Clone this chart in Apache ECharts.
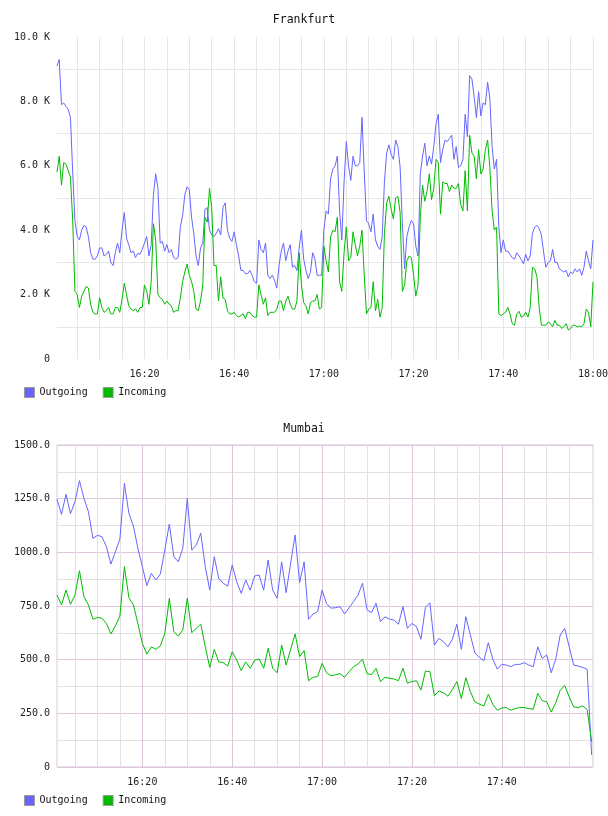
<!DOCTYPE html>
<html>
<head>
<meta charset="utf-8">
<script src="https://cdn.jsdelivr.net/npm/echarts@6/dist/echarts.min.js"></script>
<style>
  html, body { margin: 0; padding: 0; background: #fff; }
  #chart { width: 608px; height: 816px; }
</style>
</head>
<body>
<div id="chart"></div>
<script>
// Frankfurt: one sample every 30 s, 16:00:30 .. 18:00, values in K
const fraStart = 960.5 // minutes after midnight
const fraStep = 0.5
const fraOutgoing = [
  9.1, 9.3, 7.9, 7.95, 7.85, 7.75, 7.5, 5.8, 4.3, 3.8,
  3.7, 4.0, 4.15, 4.1, 3.8, 3.3, 3.1, 3.1, 3.2, 3.45,
  3.45, 3.2, 3.25, 3.35, 3.0, 2.9, 3.3, 3.6, 3.3, 4.0,
  4.55, 3.75, 3.55, 3.3, 3.35, 3.15, 3.28, 3.25, 3.4, 3.6,
  3.8, 3.2, 3.55, 5.1, 5.75, 5.3, 3.6, 3.65, 3.35, 3.55,
  3.3, 3.4, 3.15, 3.1, 3.15, 4.1, 4.45, 5.1, 5.35, 5.25,
  4.4, 3.9, 3.2, 2.9, 3.45, 3.6, 4.65, 4.7, 4.0, 3.85,
  3.8, 3.9, 4.05, 3.85, 4.7, 4.85, 4.0, 3.75, 3.65, 3.95,
  3.55, 3.2, 2.75, 2.75, 2.65, 2.65, 2.75, 2.6, 2.4, 2.35,
  3.7, 3.4, 3.3, 3.6, 2.6, 2.5, 2.6, 2.45, 2.2, 2.9,
  3.35, 3.6, 3.05, 3.35, 3.55, 2.85, 2.9, 2.75, 3.45, 4.0,
  3.1, 2.75, 2.5, 2.7, 3.3, 3.1, 2.6, 2.6, 2.6, 4.0,
  4.6, 4.5, 5.6, 5.9, 6.0, 6.3, 4.6, 3.7, 5.5, 6.75,
  6.0, 5.55, 6.3, 6.0, 6.0, 6.1, 7.5, 5.8, 4.3, 4.2,
  3.95, 4.5, 3.7, 3.5, 3.4, 3.8, 5.5, 6.4, 6.65, 6.35,
  6.2, 6.8, 6.6, 5.95, 4.2, 2.8, 3.8, 4.1, 4.3, 4.2,
  3.5, 3.2, 5.75, 6.3, 6.7, 6.0, 6.3, 6.05, 6.6, 7.3,
  7.6, 6.1, 6.5, 6.8, 6.75, 6.85, 6.95, 6.2, 6.6, 5.95,
  6.0, 6.2, 7.6, 6.9, 8.8, 8.7, 8.15, 7.5, 8.3, 7.55,
  7.95, 7.9, 8.6, 8.1, 6.6, 5.9, 6.2, 4.1, 3.3, 3.7,
  3.35, 3.35, 3.25, 3.15, 3.1, 3.3, 3.2, 3.1, 2.95, 3.25,
  3.05, 3.2, 3.9, 4.1, 4.15, 4.05, 3.85, 3.3, 2.85, 3.0,
  3.05, 3.4, 3.0, 3.0, 2.8, 2.75, 2.7, 2.75, 2.55, 2.7,
  2.65, 2.8, 2.7, 2.8, 2.6, 2.85, 3.35, 3.05, 2.8, 3.7
]
const fraIncoming = [
  5.8, 6.3, 5.4, 6.1, 6.05, 5.85, 5.65, 4.3, 2.1, 2.0,
  1.6, 1.95, 2.1, 2.25, 2.2, 1.7, 1.45, 1.4, 1.4, 1.9,
  1.6, 1.45, 1.5, 1.6, 1.4, 1.4, 1.6, 1.6, 1.45, 1.85,
  2.35, 2.0, 1.65, 1.55, 1.5, 1.55, 1.45, 1.6, 1.6, 2.3,
  2.1, 1.7, 2.4, 4.2, 3.7, 2.0, 1.9, 1.85, 1.7, 1.8,
  1.7, 1.65, 1.45, 1.5, 1.5, 1.9, 2.4, 2.7, 2.95, 2.6,
  2.4, 2.1, 1.55, 1.5, 1.8, 2.3, 4.4, 4.25, 5.3, 4.7,
  2.9, 2.9, 1.8, 2.55, 1.9, 1.85, 1.5, 1.4, 1.4, 1.45,
  1.35, 1.3, 1.35, 1.4, 1.25, 1.45, 1.45, 1.35, 1.3, 1.3,
  2.3, 2.0, 1.7, 1.9, 1.35, 1.45, 1.45, 1.45, 1.55, 1.8,
  1.8, 1.5, 1.8, 1.95, 1.7, 1.55, 1.55, 1.8, 3.3, 2.3,
  1.75, 1.65, 1.4, 1.75, 1.8, 1.8, 2.0, 1.55, 1.6, 3.5,
  3.05, 2.7, 3.8, 4.0, 3.95, 4.4, 2.4, 2.1, 3.3, 4.1,
  3.05, 3.15, 3.95, 3.55, 3.2, 3.5, 4.0, 2.6, 1.4, 1.55,
  1.6, 2.4, 1.5, 1.85, 1.3, 1.6, 3.9, 4.85, 5.05, 4.65,
  4.35, 5.0, 5.05, 4.55, 2.1, 2.3, 3.05, 3.2, 3.15, 2.6,
  1.95, 2.3, 4.4, 5.4, 4.9, 5.2, 5.75, 4.95, 5.3, 6.2,
  6.1, 4.5, 5.5, 5.45, 5.45, 5.2, 5.4, 5.3, 5.3, 5.45,
  4.8, 4.6, 5.85, 4.6, 6.95, 6.4, 6.3, 5.6, 6.5, 5.75,
  5.9, 6.5, 6.8, 5.95, 4.6, 4.0, 4.1, 1.4, 1.35, 1.4,
  1.45, 1.6, 1.4, 1.1, 1.05, 1.4, 1.48, 1.3, 1.33, 1.45,
  1.3, 1.6, 2.85, 2.8, 2.55, 1.6, 1.05, 1.05, 1.05, 1.15,
  1.1, 1.0, 1.2, 1.05, 1.05, 0.95, 1.0, 1.1, 0.9, 0.95,
  1.05, 1.05, 1.0, 1.02, 1.0, 1.1, 1.55, 1.45, 1.0, 2.4
]

// Mumbai: one sample per minute, 16:01 .. 18:00
const mumStart = 961
const mumStep = 1
const mumOutgoing = [
  1248, 1177, 1270, 1180, 1236, 1334, 1251, 1189, 1065, 1079,
  1073, 1026, 945, 1003, 1062, 1321, 1182, 1123, 1019, 933,
  845, 902, 871, 899, 1011, 1132, 980, 956, 1019, 1251,
  1011, 1034, 1089, 933, 824, 980, 879, 856, 843, 941,
  863, 809, 871, 824, 890, 894, 824, 964, 824, 786,
  956, 812, 949, 1081, 859, 956, 688, 713, 723, 824,
  760, 740, 742, 747, 713, 741, 770, 801, 856, 733,
  719, 763, 677, 700, 689, 685, 665, 747, 646, 669,
  654, 595, 744, 765, 568, 599, 584, 560, 595, 665,
  548, 700, 615, 532, 511, 495, 579, 502, 456, 478,
  475, 467, 478, 478, 486, 475, 467, 560, 506, 522,
  439, 502, 615, 646, 560, 475, 470, 464, 455, 56
]
const mumIncoming = [
  801, 755, 824, 758, 801, 914, 793, 755, 688, 697,
  693, 669, 620, 657, 703, 933, 789, 755, 669, 576,
  526, 560, 548, 564, 623, 786, 630, 610, 638, 786,
  626, 646, 666, 560, 464, 548, 490, 486, 470, 537,
  498, 449, 490, 460, 498, 503, 460, 553, 460, 439,
  568, 475, 548, 620, 514, 542, 402, 418, 421, 483,
  439, 425, 430, 435, 418, 444, 467, 480, 502, 435,
  430, 460, 398, 418, 413, 410, 402, 460, 390, 398,
  402, 358, 447, 444, 332, 354, 346, 330, 361, 398,
  319, 416, 351, 304, 293, 284, 339, 292, 264, 275,
  277, 264, 272, 277, 277, 272, 269, 343, 309, 304,
  256, 299, 357, 380, 327, 280, 277, 285, 267, 118
]

// axis ticks, in minutes after midnight
const fraGridTimes = [965, 970, 975, 980, 985, 990, 995, 1000, 1005, 1010, 1015, 1020,
  1025, 1030, 1035, 1040, 1045, 1050, 1055, 1060, 1065, 1070, 1075, 1080]
const fraTimeLabels = [980, 1000, 1020, 1040, 1060, 1080]
const mumGridTimes = [965, 970, 975, 980, 985, 990, 995, 1000, 1005, 1010, 1015, 1020,
  1025, 1030, 1035, 1040, 1045, 1050, 1055, 1060, 1065, 1070, 1075]
const mumTimeLabels = [980, 1000, 1020, 1040, 1060]

const FONT = 'DejaVu Sans Mono'
const OUT_COLOR = '#6666ff'
const IN_COLOR = '#00bb00'

const toPairs = (vals, start, step) => vals.map((v, i) => [start + i * step, v])
const hhmm = (m) => {
  const h = Math.floor(m / 60)
  const mm = Math.round(m - h * 60)
  return h + ':' + String(mm).padStart(2, '0')
}

const labelStyle = { fontFamily: FONT, fontSize: 10, color: '#222' }

function timeAxis(gridIndex, min, max, gridTimes, labels, lineColors) {
  return {
    type: 'value',
    gridIndex,
    min,
    max,
    axisLine: { show: false },
    axisTick: { show: false, customValues: gridTimes },
    axisLabel: { ...labelStyle, margin: 10, customValues: labels, formatter: hhmm },
    splitLine: { show: true, lineStyle: { color: lineColors, width: 1 } },
  }
}

function lineSeries(name, data, color, idx) {
  return {
    name,
    type: 'line',
    xAxisIndex: idx,
    yAxisIndex: idx,
    data,
    showSymbol: false,
    symbol: 'none',
    lineStyle: { color, width: 1 },
    itemStyle: { color },
    animation: false,
  }
}

function legendAt(top) {
  return {
    left: 24,
    top,
    padding: 0,
    icon: 'rect',
    itemWidth: 10,
    itemHeight: 10,
    itemGap: 15,
    itemStyle: { borderColor: '#999', borderWidth: 1 },
    textStyle: { fontFamily: FONT, fontSize: 10, color: '#111' },
    data: ['Outgoing', 'Incoming'],
    selectedMode: false,
  }
}

const chart = echarts.init(document.getElementById('chart'), null, { renderer: 'canvas' })

chart.setOption({
  backgroundColor: '#fff',
  animation: false,
  title: [
    { text: 'Frankfurt', left: 'center', top: 14, padding: 0,
      textStyle: { fontFamily: FONT, fontSize: 11.5, fontWeight: 'normal', color: '#111' } },
    { text: 'Mumbai', left: 'center', top: 423, padding: 0,
      textStyle: { fontFamily: FONT, fontSize: 11.5, fontWeight: 'normal', color: '#111' } },
  ],
  legend: [legendAt(387), legendAt(795)],
  grid: [
    { left: 57, top: 37, width: 536, height: 322, outerBoundsMode: 'none', containLabel: false },
    { left: 57, top: 445, width: 536, height: 322, outerBoundsMode: 'none', containLabel: false,
      show: true, borderColor: '#dcc6dc', borderWidth: 1, backgroundColor: 'transparent' },
  ],
  xAxis: [
    timeAxis(0, fraStart, 1080, fraGridTimes, fraTimeLabels, ['#e6e6e6']),
    timeAxis(1, 961, 1080.3, mumGridTimes, mumTimeLabels, ['#e3dfe3', '#e3dfe3', '#e3dfe3', '#dcc6dc']),
  ],
  yAxis: [
    {
      type: 'value', gridIndex: 0, min: 0, max: 10, interval: 1,
      axisLine: { show: false }, axisTick: { show: false },
      axisLabel: { ...labelStyle, margin: 7,
        formatter: (v) => (v % 2 ? '' : v === 0 ? '0' : v.toFixed(1) + ' K') },
      splitLine: { lineStyle: { color: ['rgba(0,0,0,0)', '#e6e6e6'], width: 1 } },
    },
    {
      type: 'value', gridIndex: 1, min: 0, max: 1500, interval: 125,
      axisLine: { show: false }, axisTick: { show: false },
      axisLabel: { ...labelStyle, margin: 7,
        formatter: (v) => (v % 250 ? '' : v === 0 ? '0' : v.toFixed(1)) },
      splitLine: { lineStyle: { color: ['#dcc6dc', '#e3dfe3'], width: 1 } },
    },
  ],
  series: [
    lineSeries('Outgoing', toPairs(fraOutgoing, fraStart, fraStep), OUT_COLOR, 0),
    lineSeries('Incoming', toPairs(fraIncoming, fraStart, fraStep), IN_COLOR, 0),
    lineSeries('Outgoing', toPairs(mumOutgoing, mumStart, mumStep), OUT_COLOR, 1),
    lineSeries('Incoming', toPairs(mumIncoming, mumStart, mumStep), IN_COLOR, 1),
  ],
})
</script>
</body>
</html>
